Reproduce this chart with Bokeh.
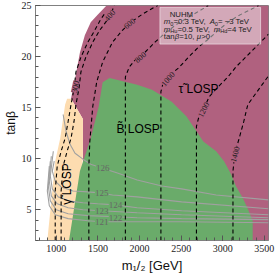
from bokeh.plotting import figure
from bokeh.models import Range1d, FixedTicker, Label
from bokeh.embed import file_html
from bokeh.resources import INLINE

# ---------------- data ----------------
x_lo, x_hi = 750, 3550
y_lo, y_hi = 2, 25
x_ticks = [1000, 1500, 2000, 2500, 3000, 3500]
y_ticks = [5, 10, 15, 20, 25]

# stau LOSP region (drawn first, others on top)
tau_x = [1604, 1497, 1414, 1343, 1284, 1225, 1177, 1320, 1320, 1600, 3550, 3550]
tau_y = [25, 24.1, 23.35, 22.1, 20.4, 17.8, 15.9, 13.9, 9.5, 2, 2, 25]
# photino LOSP region
pho_x = [892, 940, 987, 1047, 1106, 1130, 1177, 1320, 1320, 1272]
pho_y = [2, 5.9, 9.76, 12.0, 15.3, 15.88, 15.88, 13.9, 10.5, 2]
# bino LOSP region
bino_x = [1153, 1284, 1414, 1509, 1557, 1640, 1972, 2150, 2387, 2565, 2767,
          2921, 3016, 3099, 3158, 3241, 3301, 3360, 3360]
bino_y = [2, 8.79, 12.0, 15.1, 17.5, 17.9, 17.24, 16.75, 15.59, 14.13, 11.7,
          10.73, 9.76, 8.5, 7.34, 6.17, 5.1, 3.94, 2]

# dashed contours
c300_x = [987, 987, 1011, 1058, 1106, 1142, 1177, 1213, 1236, 1296, 1379, 1462, 1533, 1592]
c300_y = [2.0, 6.85, 9.28, 10.73, 12.0, 13.65, 15.30, 16.85, 18.50, 19.95, 21.41, 22.57, 23.64, 24.32]
c400_x = [1058, 1058, 1082, 1130, 1177, 1213, 1236, 1272, 1296, 1355, 1438, 1521, 1592, 1640, 1699]
c400_y = [2.0, 6.85, 9.28, 10.73, 12.0, 13.65, 15.30, 16.85, 18.50, 19.95, 21.41, 22.57, 23.35, 23.93, 25.0]
c600_x = [1391, 1391, 1403, 1438, 1486, 1557, 1675, 1794, 1877, 2031, 2174, 2221]
c600_y = [2.0, 9.28, 11.70, 15.10, 17.53, 19.47, 21.41, 22.57, 23.25, 24.13, 24.81, 25.0]
c800_x = [1830, 1830, 1877, 1936, 2008, 2091, 2186, 2304, 2447, 2565, 2708, 2826]
c800_y = [2.0, 18.01, 18.98, 19.57, 19.95, 20.63, 21.41, 22.28, 23.16, 23.74, 24.42, 25.0]
c1000_x = [2257, 2257, 2281, 2340, 2411, 2470, 2589, 2708, 2826, 2945, 3063, 3194, 3336, 3431]
c1000_y = [2.0, 16.56, 17.33, 17.92, 18.50, 18.89, 19.95, 20.92, 21.70, 22.57, 23.35, 24.03, 24.61, 25.0]
c1200_x = [2684, 2684, 2708, 2767, 2838, 2945, 3063, 3158, 3277, 3372, 3491, 3550]
c1200_y = [2.0, 13.16, 13.94, 14.81, 16.07, 17.04, 18.01, 18.98, 19.95, 20.73, 21.70, 22.19]
c1400_x = [3123, 3123, 3146, 3194, 3253, 3301, 3420, 3550]
c1400_y = [2.0, 8.79, 10.54, 11.90, 13.65, 15.30, 16.65, 18.11]
contour_names = ["300", "400", "600", "800", "1000", "1200", "1400"]
contour_label_x = [1225, 1640, 1877, 2008, 2340, 2767, 3146]
contour_label_y = [17.04, 24.03, 23.25, 19.95, 17.82, 14.81, 10.44]
contour_label_deg = [78, 50, 38, 40, 50, 63, 75]

# Higgs mass contours
h126_x = [1082, 1118, 1165, 1225, 1320, 1414, 1557, 1735, 1972, 2269, 2506, 2921, 3550]
h126_y = [14.33, 12.67, 11.41, 10.54, 9.96, 9.47, 9.08, 8.60, 7.92, 7.34, 7.05, 6.46, 5.98]
h125_x = [975, 952, 987, 1058, 1201, 1379, 1521, 1675, 1972, 2506, 3550]
h125_y = [9.76, 8.79, 7.82, 7.24, 6.85, 6.76, 6.66, 6.46, 6.27, 5.78, 5.11]
h124_x = [964, 928, 952, 1023, 1142, 1320, 1497, 1711, 1972, 2506, 3550]
h124_y = [10.73, 8.31, 7.05, 6.27, 5.88, 5.69, 5.59, 5.49, 5.20, 4.91, 4.52]
h123_x = [940, 916, 940, 1011, 1142, 1320, 1545, 1972, 2506, 3550]
h123_y = [10.25, 7.82, 6.37, 5.59, 5.20, 5.01, 4.91, 4.72, 4.52, 4.23]
h122_x = [928, 904, 928, 999, 1142, 1379, 1711, 1972, 2506, 3550]
h122_y = [9.76, 7.34, 5.88, 5.01, 4.62, 4.43, 4.33, 4.23, 4.14, 4.04]
h121_x = [916, 892, 916, 987, 1142, 1379, 1545, 1972, 2506, 3550]
h121_y = [9.28, 6.85, 5.40, 4.52, 4.14, 3.94, 3.84, 3.84, 3.84, 3.74]
higgs_names = ["126", "125", "124", "123", "122", "121"]
higgs_label_x = [1557, 1545, 1711, 1545, 1711, 1545]
higgs_label_y = [9.08, 6.66, 5.49, 4.91, 4.23, 3.84]

# ---------------- styles ----------------
PINK = "#b0617f"
GREEN = "#6aab6a"
TAN = "#fddcb0"
GRAY = "#a0a0a0"

p = figure(width=275, height=275, output_backend="svg", toolbar_location=None,
           x_range=Range1d(x_lo, x_hi), y_range=Range1d(y_lo, y_hi),
           min_border_left=32, min_border_right=7, min_border_top=5, min_border_bottom=35)
p.styles = {"position": "absolute", "left": "0px", "top": "0px"}
p.background_fill_color = "white"
p.border_fill_color = "white"
p.outline_line_color = "#808080"
p.grid.visible = False

p.patch(tau_x, tau_y, fill_color=PINK, line_color=None)
p.patch(pho_x, pho_y, fill_color=TAN, line_color=None)
p.patch(bino_x, bino_y, fill_color=GREEN, line_color=None)

for hx, hy in [(h126_x, h126_y), (h125_x, h125_y), (h124_x, h124_y),
               (h123_x, h123_y), (h122_x, h122_y), (h121_x, h121_y)]:
    p.line(hx, hy, line_color=GRAY, line_width=1.1)

for cx, cy in [(c300_x, c300_y), (c400_x, c400_y), (c600_x, c600_y), (c800_x, c800_y),
               (c1000_x, c1000_y), (c1200_x, c1200_y), (c1400_x, c1400_y)]:
    p.line(cx, cy, line_color="black", line_width=1.1, line_dash="4 3")

for t, lx, ly, a in zip(contour_names, contour_label_x, contour_label_y, contour_label_deg):
    p.add_layout(Label(x=lx, y=ly, text=t, angle=a, angle_units="deg",
                       text_align="center", text_baseline="middle",
                       text_font="Liberation Serif", text_font_size="8px", text_color="#1a1a1a",
                       background_fill_color=PINK))

for t, lx, ly in zip(higgs_names, higgs_label_x, higgs_label_y):
    p.add_layout(Label(x=lx, y=ly, text=t, text_align="center", text_baseline="middle",
                       text_font="Liberation Serif", text_font_size="9px", text_color="#666666",
                       background_fill_color=GREEN))

# region names
p.add_layout(Label(x=1984, y=12.87, text="B\u0303 LOSP", text_align="center", text_baseline="middle",
                   text_font="Liberation Sans", text_font_size="12px", text_color="black"))
p.add_layout(Label(x=2708, y=16.85, text="\u03c4\u0303 LOSP", text_align="center", text_baseline="middle",
                   text_font="Liberation Sans", text_font_size="12px", text_color="black"))
p.add_layout(Label(x=1130, y=7.53, text="\u03b3\u0303 LOSP", angle=90, angle_units="deg",
                   text_align="center", text_baseline="middle",
                   text_font="Liberation Sans", text_font_size="12px", text_color="black"))

# info box
p.quad(left=2245, right=3455, top=24.81, bottom=21.22, fill_color="white", fill_alpha=0.45,
       line_color="white", line_alpha=0.5)

W = {'m': .833, 'A': .667, '=': .584, '.': .278, ' ': .278, 'T': .611, 'e': .556, 'V': .667,
     ',': .278, '\u2212': .584, 'H': .722, 'u': .556, 'd': .556, 't': .278, 'a': .556, 'n': .556,
     '\u03b2': .575, '\u03bc': .576, '>': .584, 'N': .722, 'U': .722, 'M': .833}


def tw(s, fs):
    return sum(W.get(c, .556) for c in s) * fs


def runs(x, y, parts, size, font="Liberation Sans"):
    off = 0.0
    for text, kind in parts:
        fs = size * 0.72 if kind == "s" else size
        p.add_layout(Label(x=x, y=y, x_offset=off, y_offset=-2 if kind == "s" else 0, text=text,
                           text_font=font, text_font_size=f"{fs:.1f}px",
                           text_font_style="italic" if kind == "i" else "normal",
                           text_baseline="alphabetic", text_align="left", text_color="#222222"))
        off += tw(text, fs)


runs(2363, 24.13, [("NUHM", "n")], 7.8)
runs(2292, 23.40, [("m", "i"), ("0", "s"), ("=0.3 TeV, ", "n"), ("A", "i"), ("0", "s"),
                   ("= \u22123 TeV", "n")], 7.8)
runs(2292, 22.67, [("m", "i"), ("Hu", "s"), ("=0.5 TeV, ", "n"), ("m", "i"), ("Hd", "s"),
                   ("=4 TeV", "n")], 7.8)
runs(2292, 21.99, [("tan", "n"), ("\u03b2", "i"), ("=10, ", "n"), ("\u03bc", "i"), (">0", "n")], 7.8)

# axes
p.xaxis.ticker = FixedTicker(ticks=x_ticks, minor_ticks=list(range(800, 3600, 100)))
p.yaxis.ticker = FixedTicker(ticks=y_ticks, minor_ticks=list(range(2, 26)))
for ax in (p.xaxis[0], p.yaxis[0]):
    ax.axis_line_color = "#808080"
    ax.major_tick_line_color = "#555555"
    ax.minor_tick_line_color = "#555555"
    ax.major_tick_in = 5
    ax.major_tick_out = 0
    ax.minor_tick_in = 3
    ax.minor_tick_out = 0
    ax.major_label_text_font = "Liberation Serif"
    ax.major_label_text_font_size = "10px"
    ax.major_label_text_color = "#222222"
    ax.major_label_standoff = 4
    ax.axis_label_text_font = "Liberation Sans"
    ax.axis_label_text_font_style = "normal"
    ax.axis_label_text_color = "#111111"
p.yaxis.axis_label = "tan\u03b2"
p.yaxis.axis_label_text_font_size = "12px"
p.yaxis.axis_label_standoff = 1
p.xaxis.axis_label = "m\u2081/\u2082 [GeV]"
p.xaxis.axis_label_text_font_size = "13px"
p.xaxis.axis_label_standoff = 3

open("out.html", "w").write(file_html(p, INLINE))
